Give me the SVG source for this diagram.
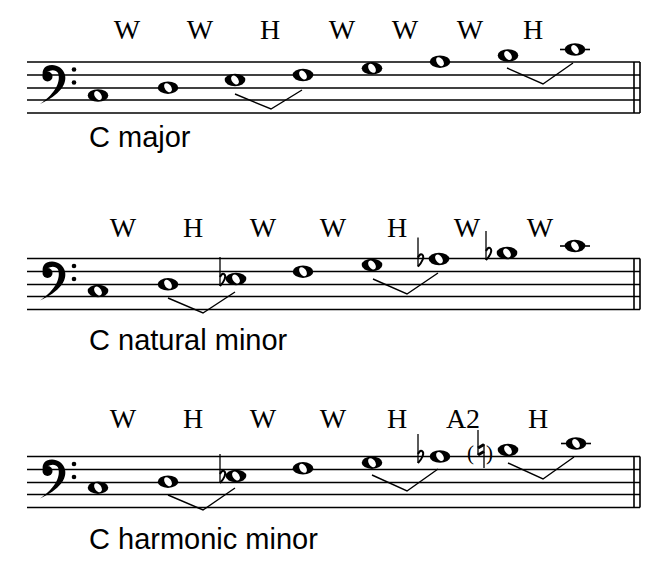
<svg xmlns="http://www.w3.org/2000/svg" xmlns:xlink="http://www.w3.org/1999/xlink" width="651" height="565" viewBox="0 0 651 565">
<style>
.st{stroke:#000;stroke-width:1.6}
.v{fill:none;stroke:#000;stroke-width:1.4}
.lab{font-family:"Liberation Serif",serif;font-size:28px;text-anchor:middle}
.cap{font-family:"Liberation Sans",sans-serif;font-size:29px}
.fl{fill:none;stroke:#000;stroke-width:1.3}
</style>
<defs>
<g id="note"><ellipse rx="10.3" ry="6.2" fill="#000"/><ellipse rx="3.2" ry="5" fill="#fff" transform="rotate(-35)"/></g>
<g id="noteL"><line x1="-15" y1="0" x2="15" y2="0" stroke="#000" stroke-width="1.6"/><use xlink:href="#note"/></g>
<g id="flat"><line x1="0" y1="-22" x2="0" y2="7" class="fl"/><path d="M0,7 C4,3 7,-3 4,-5 C2,-6 1,-4 0,-2" fill="none" stroke="#000" stroke-width="2"/></g>
<g id="staff">
<line x1="27" y1="62" x2="640" y2="62" class="st"/>
<line x1="27" y1="75" x2="640" y2="75" class="st"/>
<line x1="27" y1="88" x2="640" y2="88" class="st"/>
<line x1="27" y1="100" x2="640" y2="100" class="st"/>
<line x1="27" y1="113" x2="640" y2="113" class="st"/>
<line x1="634" y1="62" x2="634" y2="113" class="st"/>
<line x1="640" y1="62" x2="640" y2="113" class="st"/>
<path d="M40,104 C60,95 67,84 65,75 C63,66 53,63 47,66 C43,68 42,72 43,76 C47,70 55,68 58,73 C61,81 56,93 40,104 Z" fill="#000"/>
<circle cx="47.5" cy="76.5" r="5"/>
<circle cx="74" cy="69.5" r="2.3"/>
<circle cx="74" cy="82.5" r="2.3"/>
</g>
</defs>

<g id="staff-major">
<use xlink:href="#staff"/>
<use xlink:href="#note" x="98" y="95.5"/>
<use xlink:href="#note" x="168" y="87.7"/>
<use xlink:href="#note" x="235" y="80"/>
<use xlink:href="#note" x="303" y="75"/>
<use xlink:href="#note" x="372" y="68.3"/>
<use xlink:href="#note" x="440" y="61.7"/>
<use xlink:href="#note" x="508" y="55.5"/>
<use xlink:href="#noteL" x="575" y="49.5"/>
<text class="lab" x="127" y="39">W</text><text class="lab" x="200" y="39">W</text><text class="lab" x="270" y="39">H</text><text class="lab" x="342" y="39">W</text><text class="lab" x="405" y="39">W</text><text class="lab" x="470" y="39">W</text><text class="lab" x="533" y="39">H</text>
<text class="cap" x="89" y="147">C major</text>
</g>

<g id="staff-natural">
<use xlink:href="#staff" y="196.5"/>
<use xlink:href="#note" x="98" y="291"/>
<use xlink:href="#note" x="168" y="284.3"/>
<use xlink:href="#note" x="236" y="279"/>
<use xlink:href="#flat" x="220" y="279"/>
<use xlink:href="#note" x="303" y="271.7"/>
<use xlink:href="#note" x="372" y="265"/>
<use xlink:href="#note" x="439" y="259"/>
<use xlink:href="#flat" x="418" y="259.5"/>
<use xlink:href="#note" x="507" y="253"/>
<use xlink:href="#flat" x="486" y="253"/>
<use xlink:href="#noteL" x="575" y="246"/>
<text class="lab" x="123" y="237">W</text><text class="lab" x="193" y="237">H</text><text class="lab" x="263" y="237">W</text><text class="lab" x="333" y="237">W</text><text class="lab" x="397" y="237">H</text><text class="lab" x="467" y="237">W</text><text class="lab" x="540" y="237">W</text>
<text class="cap" x="89" y="350">C natural minor</text>
</g>

<g id="staff-harmonic">
<use xlink:href="#staff" y="394.5"/>
<use xlink:href="#note" x="98" y="487.7"/>
<use xlink:href="#note" x="168" y="481.7"/>
<use xlink:href="#note" x="236" y="476"/>
<use xlink:href="#flat" x="220" y="476"/>
<use xlink:href="#note" x="303" y="468.3"/>
<use xlink:href="#note" x="372" y="462.7"/>
<use xlink:href="#note" x="440" y="456.5"/>
<use xlink:href="#flat" x="418" y="456"/>
<use xlink:href="#note" x="508" y="450"/>
<g id="natural">
<text x="467" y="460" font-family="Liberation Serif,serif" font-size="21">(</text>
<text x="486" y="460" font-family="Liberation Serif,serif" font-size="21">)</text>
<line x1="478" y1="430" x2="478" y2="455" class="fl"/>
<line x1="484" y1="444" x2="484" y2="468" class="fl"/>
<line x1="478" y1="448" x2="484" y2="444.5" stroke="#000" stroke-width="3"/>
<line x1="478" y1="455" x2="484" y2="451.5" stroke="#000" stroke-width="3"/>
</g>
<use xlink:href="#noteL" x="576" y="443.5"/>
<text class="lab" x="123" y="428">W</text><text class="lab" x="193" y="428">H</text><text class="lab" x="263" y="428">W</text><text class="lab" x="333" y="428">W</text><text class="lab" x="397" y="428">H</text><text class="lab" x="463" y="428">A2</text><text class="lab" x="538" y="428">H</text>
<text class="cap" x="89" y="549">C harmonic minor</text>
</g>

<g id="connectors">
<polyline class="v" points="235,94 271,109 302,90"/>
<polyline class="v" points="507,68 543,84 573,63"/>
<polyline class="v" points="168,298 203,313 235,292"/>
<polyline class="v" points="373,279 407,294 438,273"/>
<polyline class="v" points="168,495 203,510 235,488"/>
<polyline class="v" points="372,475 407,491 438,469"/>
<polyline class="v" points="508,463 543,479 574,457"/>
</g>
</svg>
